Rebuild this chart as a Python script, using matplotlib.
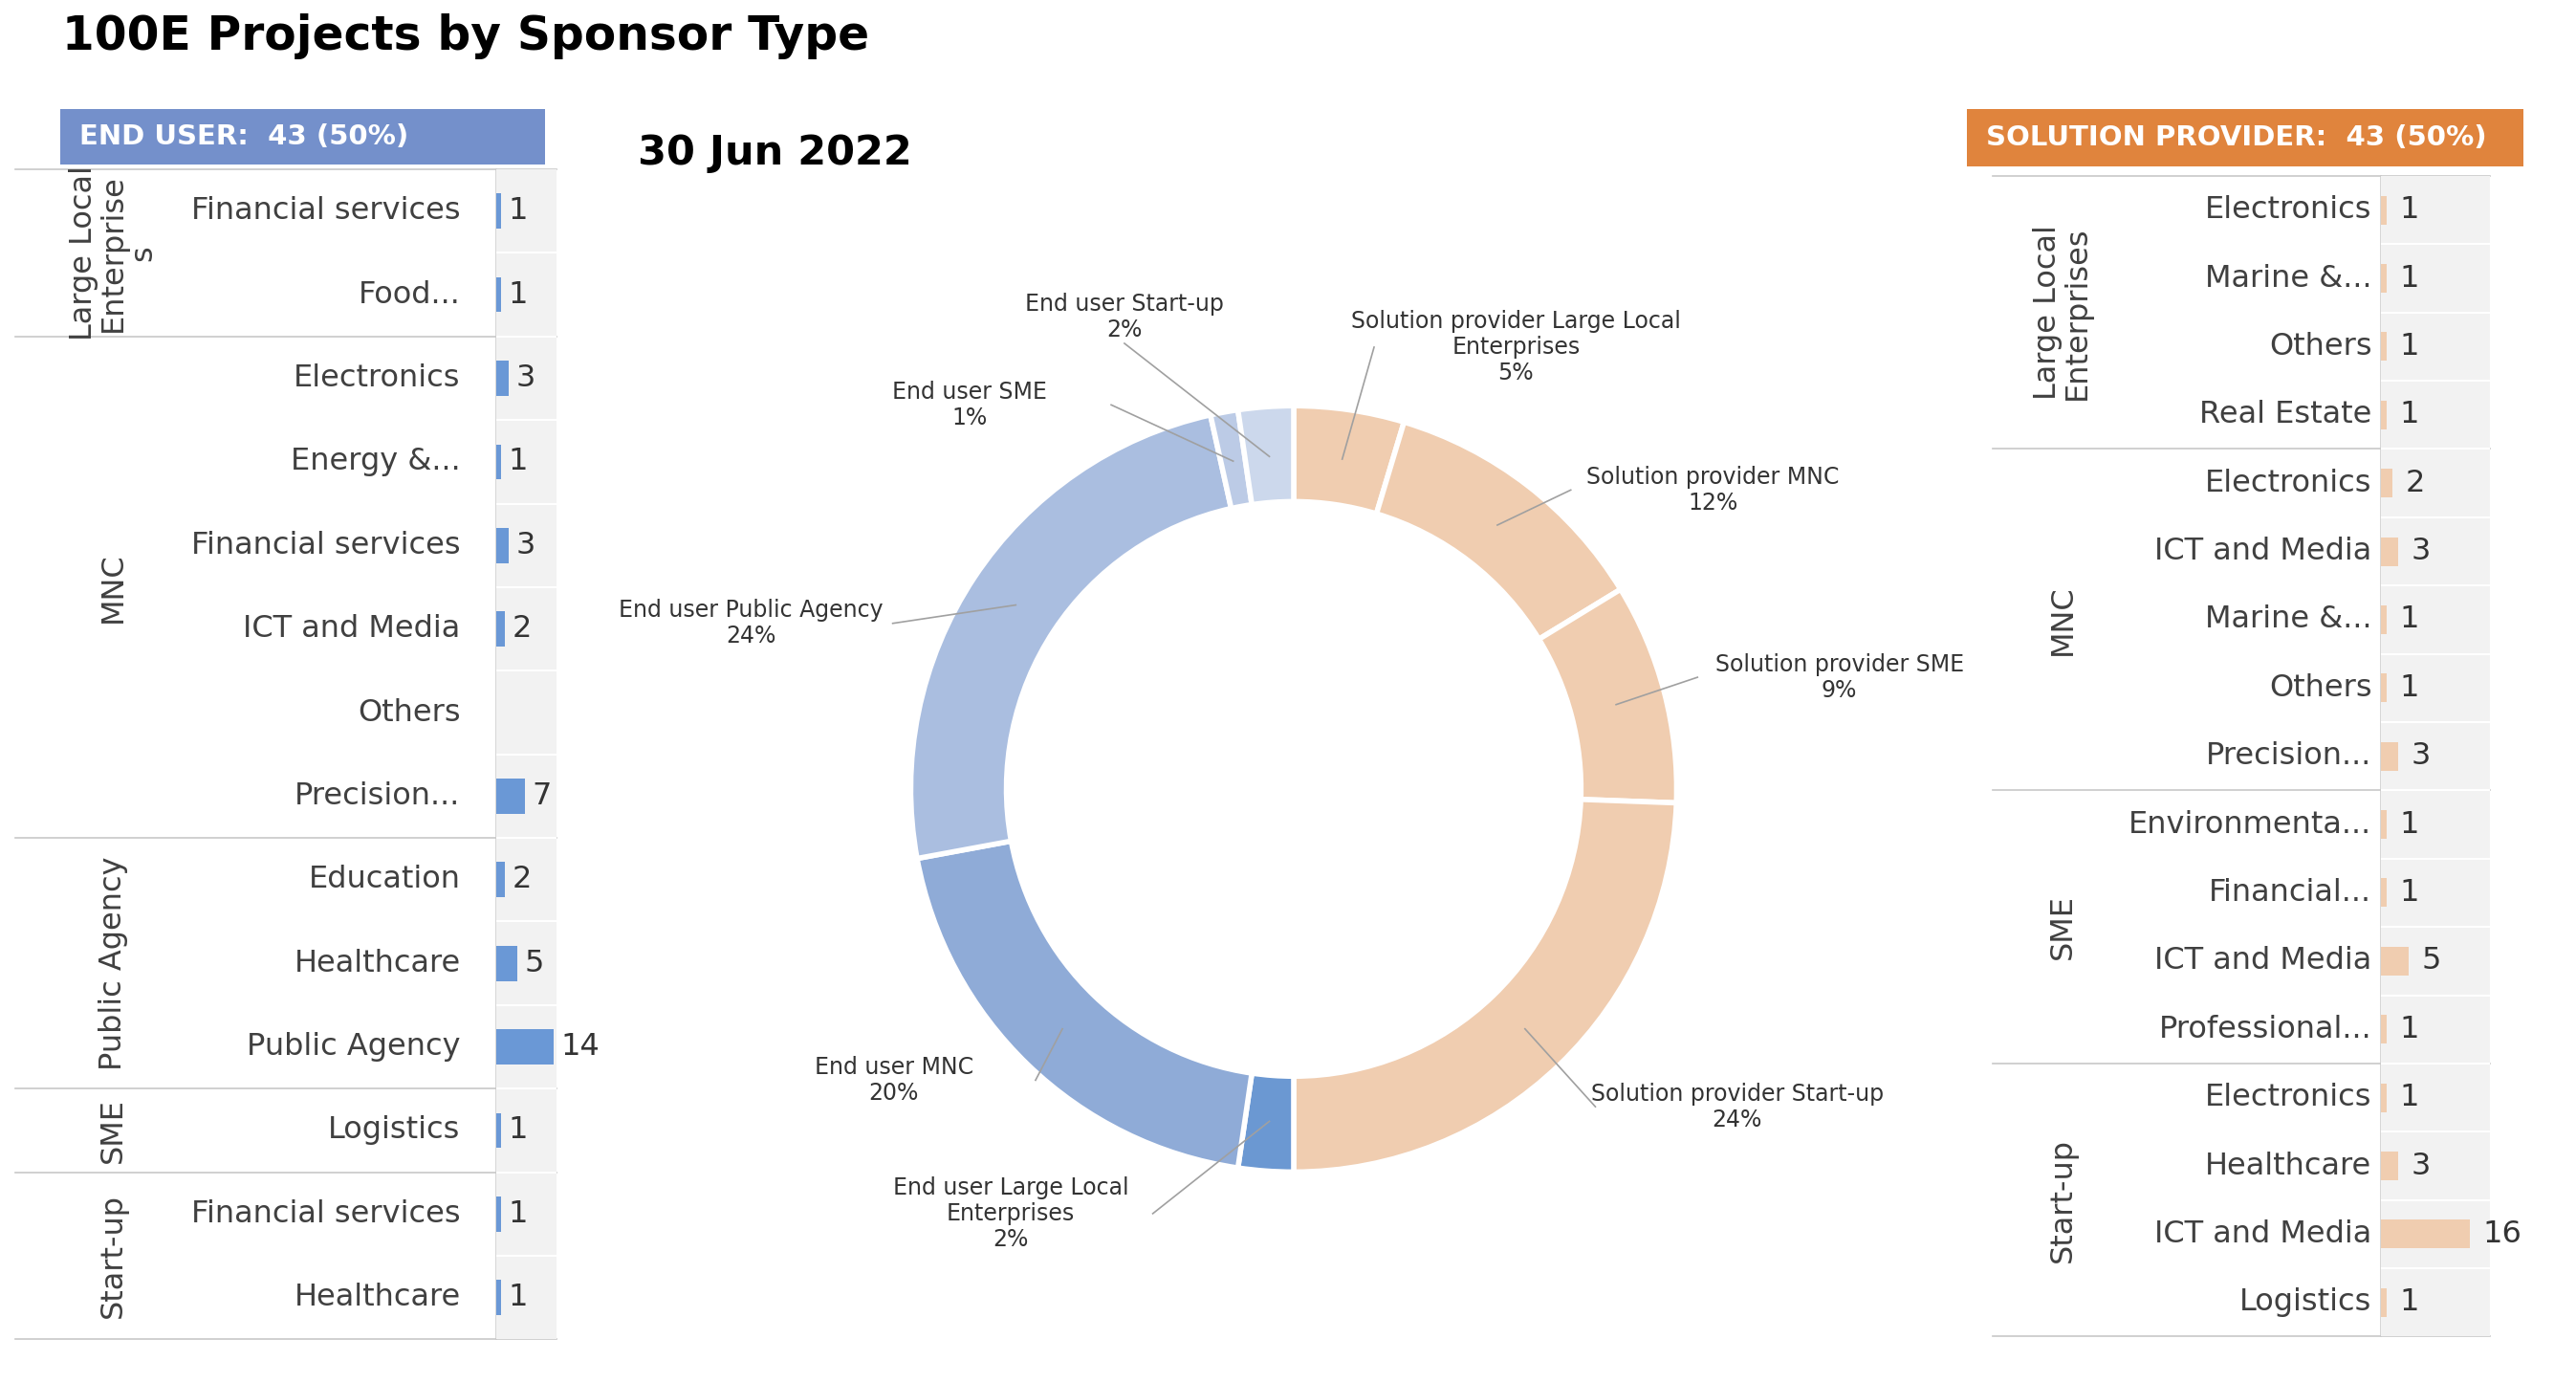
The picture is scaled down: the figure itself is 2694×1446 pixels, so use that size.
import matplotlib.pyplot as plt
import matplotlib.patches as mpatches
import numpy as np

W, H = 2694, 1446
S = 0.989  # coordinate scale

# ---- data ----
eu_groups = ["Large Local\nEnterprise\ns", "MNC", "Public Agency", "SME", "Start-up"]
eu_cats = [["Financial services", "Food..."],
           ["Electronics", "Energy &...", "Financial services", "ICT and Media", "Others", "Precision..."],
           ["Education", "Healthcare", "Public Agency"],
           ["Logistics"],
           ["Financial services", "Healthcare"]]
eu_vals = [[1, 1], [3, 1, 3, 2, None, 7], [2, 5, 14], [1], [1, 1]]

sp_groups = ["Large Local\nEnterprises", "MNC", "SME", "Start-up"]
sp_cats = [["Electronics", "Marine &...", "Others", "Real Estate"],
           ["Electronics", "ICT and Media", "Marine &...", "Others", "Precision..."],
           ["Environmenta...", "Financial...", "ICT and Media", "Professional..."],
           ["Electronics", "Healthcare", "ICT and Media", "Logistics"]]
sp_vals = [[1, 1, 1, 1], [2, 3, 1, 1, 3], [1, 1, 5, 1], [1, 3, 16, 1]]

pie_labels = ["Solution provider Large Local\nEnterprises", "Solution provider MNC",
              "Solution provider SME", "Solution provider Start-up",
              "End user Large Local\nEnterprises", "End user MNC", "End user Public Agency",
              "End user SME", "End user Start-up"]
pie_vals = [4, 10, 8, 21, 2, 17, 21, 1, 2]
pie_colors = ["#F0CDB0"] * 4 + ["#6B98D2", "#8FABD7", "#AABEE0", "#BCCBE6", "#CCD8EC"]
pie_label_pos = [(1603, 367), (1811, 518), (1945, 716), (1837, 1170),
                 (1069, 1283), (945, 1142), (794, 659), (1025, 428), (1189, 335)]

fig = plt.figure(figsize=(W / 100, H / 100), dpi=100)
ov = fig.add_axes([0, 0, 1, 1])
ov.set_xlim(0, W / S)
ov.set_ylim(H / S, 0)
ov.axis("off")

ov.text(66, 38, "100E Projects by Sponsor Type", fontsize=35, fontweight="bold", va="center")
ov.text(674, 162, "30 Jun 2022", fontsize=31, fontweight="bold", va="center")


def draw_table(groups, cats, vals, x_left, x_grp, x_txt, bx0, bx1, y0, y1, xmax, color,
               header, hx0, hx1, hy0, hy1, hcolor):
    n = sum(len(c) for c in cats)
    rh = (y1 - y0) / n
    ov.add_patch(mpatches.Rectangle((hx0, hy0), hx1 - hx0, hy1 - hy0, color=hcolor, lw=0))
    ov.text(hx0 + 20, (hy0 + hy1) / 2, header, color="white", fontsize=21,
            fontweight="bold", va="center")
    ax = fig.add_axes([bx0 * S / W, 1 - y1 * S / H, (bx1 - bx0) * S / W, (y1 - y0) * S / H])
    ax.set_facecolor("#F2F2F2")
    flat = [v for g in vals for v in g]
    widths = [v if v else 0 for v in flat]
    ax.barh(range(n), widths, height=0.42, color=color)
    ax.set_ylim(n - 0.5, -0.5)
    ax.set_xlim(0, xmax)
    for i in range(1, n):
        ax.axhline(i - 0.5, color="white", lw=1.5)
    for i, v in enumerate(flat):
        if v:
            ax.text(v + xmax * 0.12, i, str(v), fontsize=23, va="center", color="#333333",
                    clip_on=False)
    ax.set_xticks([])
    ax.set_yticks([])
    for s in ax.spines.values():
        s.set_visible(False)
    ov.plot([bx0, bx0], [y0, y1], color="#D0D0D0", lw=1.2)
    r = 0
    ov.plot([x_left, bx1], [y0, y0], color="#C8C8C8", lw=1.2)
    for g, cs in zip(groups, cats):
        gy0 = y0 + r * rh
        for c in cs:
            ov.text(x_txt, y0 + (r + 0.5) * rh, c, fontsize=23, ha="right", va="center",
                    color="#404040")
            r += 1
        gy1 = y0 + r * rh
        ov.text(x_grp, (gy0 + gy1) / 2, g, fontsize=23, rotation=90, ha="center",
                va="center", color="#404040", linespacing=1.0)
        ov.plot([x_left, bx1], [gy1, gy1], color="#C8C8C8", lw=1.2)


draw_table(eu_groups, eu_cats, eu_vals, 16, 120, 487, 525, 588, 179, 1416, 14.5,
           "#6A98D6", "END USER:  43 (50%)", 64, 576, 115, 174, "#7490CB")
draw_table(sp_groups, sp_cats, sp_vals, 2107, 2181, 2508, 2518, 2633, 186, 1413, 19.6,
           "#F0CDB0", "SOLUTION PROVIDER:  43 (50%)", 2080, 2668, 115, 176, "#E0843D")

# ---- donut ----
pa = fig.add_axes([0, 0, 1, 1])
cx, cy, R = 1368, H - 834, 405
wedges, _ = pa.pie(pie_vals, colors=pie_colors, startangle=90, counterclock=False,
                   center=(cx, cy), radius=R,
                   wedgeprops=dict(width=R * 0.25, edgecolor="white", linewidth=4))
pa.set_xlim(0, W / S)
pa.set_ylim(H - H / S, H)
pa.set_aspect("auto")
pa.axis("off")
total = sum(pie_vals)
for w, lab, v, (lx, ly) in zip(wedges, pie_labels, pie_vals, pie_label_pos):
    ang = np.deg2rad((w.theta1 + w.theta2) / 2)
    px, py = cx + 0.87 * R * np.cos(ang), cy + 0.87 * R * np.sin(ang)
    ly2 = H - ly
    pa.text(lx, ly2, f"{lab}\n{round(v / total * 100)}%", fontsize=17, ha="center",
            va="center", color="#333333", linespacing=1.15)
    nl = lab.count("\n") + 2
    ex = lx
    ey = ly2 - (nl * 14 if py < ly2 - 30 else 0)
    if abs(py - ly2) < 120:
        ex = lx + (1 if px > lx else -1) * 150
        ey = ly2
    pa.plot([ex, px], [ey, py], color="#A0A0A0", lw=1.2)

fig.savefig("out.png", dpi=100)
